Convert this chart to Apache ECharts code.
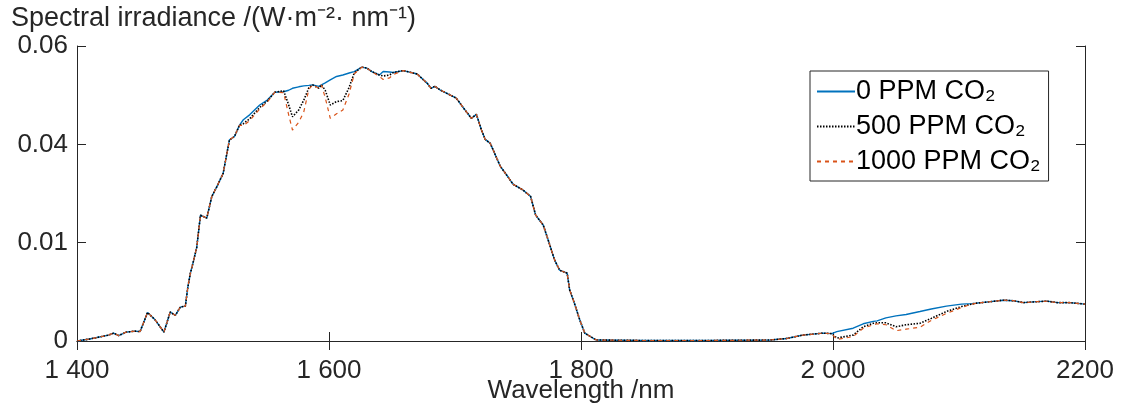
<!DOCTYPE html>
<html>
<head>
<meta charset="utf-8">
<script src="https://cdn.jsdelivr.net/npm/echarts@6/dist/echarts.min.js"></script>
<style>html,body{margin:0;padding:0;background:#fff}#c{width:1130px;height:403px}</style>
</head>
<body>
<div id="c"></div>
<script>
const wavelengths = [1400,1410,1425,1429,1433,1439,1446,1450,1456,1462,1469,1474,1478,1482,1486,1488,1490,1492,1495,1498,1503,1507,1511,1516,1519,1521,1525,1529,1532,1537,1545,1551,1557,1564,1568,1571,1576,1580,1584,1587,1592,1594,1597,1601,1606,1611,1616,1620,1626,1630,1634,1640,1643,1648,1651,1659,1670,1678,1681,1684,1688,1701,1707,1713,1717,1721,1724,1728,1736,1742,1746,1754,1760,1764,1770,1774,1779,1783,1789,1791,1795,1799,1803,1812,1850,1900,1950,1963,1976,1992,1999,2003,2016,2024,2032,2035,2042,2050,2058,2069,2078,2090,2102,2110,2114,2125,2135,2143,2151,2162,2170,2178,2188,2200];
const ppm0 = [0,0.0004,0.0012,0.0016,0.0011,0.0018,0.0020,0.0019,0.0058,0.0043,0.0018,0.0059,0.0052,0.0069,0.0071,0.0110,0.0138,0.0158,0.0190,0.0256,0.0250,0.0294,0.0314,0.0341,0.0382,0.0409,0.0416,0.0439,0.0450,0.0460,0.0480,0.0490,0.0506,0.0507,0.0510,0.0514,0.0517,0.0519,0.0520,0.0521,0.0518,0.0521,0.0525,0.0531,0.0538,0.0541,0.0545,0.0548,0.0557,0.0555,0.0548,0.0541,0.0548,0.0547,0.0546,0.0550,0.0543,0.0524,0.0514,0.0518,0.0511,0.0494,0.0473,0.0453,0.0461,0.0429,0.0410,0.0402,0.0355,0.0334,0.0319,0.0307,0.0294,0.0256,0.0236,0.0205,0.0165,0.0144,0.0138,0.0104,0.0075,0.0043,0.0016,0.0002,0.0001,0.0001,0.0002,0.0005,0.0012,0.0016,0.0015,0.0019,0.0026,0.0035,0.0040,0.0041,0.0047,0.0051,0.0054,0.0060,0.0065,0.0071,0.0075,0.0076,0.0077,0.0080,0.0083,0.0082,0.0078,0.0080,0.0081,0.0078,0.0078,0.0075];
const ppm500 = [0,0.0004,0.0012,0.0016,0.0011,0.0018,0.0020,0.0019,0.0058,0.0043,0.0018,0.0059,0.0052,0.0069,0.0071,0.0110,0.0138,0.0158,0.0190,0.0256,0.0250,0.0294,0.0314,0.0341,0.0382,0.0409,0.0416,0.0439,0.0442,0.0452,0.0475,0.0488,0.0506,0.0509,0.0480,0.0456,0.0470,0.0490,0.0515,0.0521,0.0514,0.0521,0.0510,0.0480,0.0487,0.0489,0.0516,0.0545,0.0557,0.0555,0.0548,0.0541,0.0539,0.0541,0.0546,0.0550,0.0543,0.0524,0.0514,0.0518,0.0511,0.0494,0.0473,0.0453,0.0461,0.0429,0.0410,0.0402,0.0355,0.0334,0.0319,0.0307,0.0294,0.0256,0.0236,0.0205,0.0165,0.0144,0.0138,0.0104,0.0075,0.0043,0.0016,0.0002,0.0001,0.0001,0.0002,0.0005,0.0012,0.0016,0.0015,0.0006,0.0012,0.0029,0.0036,0.0037,0.0037,0.0029,0.0033,0.0036,0.0046,0.0060,0.0070,0.0075,0.0077,0.0080,0.0083,0.0082,0.0078,0.0080,0.0081,0.0078,0.0078,0.0075];
const ppm1000 = [0,0.0004,0.0012,0.0016,0.0011,0.0018,0.0020,0.0019,0.0058,0.0043,0.0018,0.0059,0.0052,0.0069,0.0071,0.0110,0.0138,0.0158,0.0190,0.0256,0.0250,0.0294,0.0314,0.0341,0.0382,0.0409,0.0416,0.0439,0.0438,0.0448,0.0472,0.0486,0.0506,0.0505,0.0460,0.0429,0.0445,0.0466,0.0512,0.0521,0.0514,0.0521,0.0495,0.0453,0.0462,0.0470,0.0503,0.0543,0.0557,0.0555,0.0548,0.0538,0.0532,0.0535,0.0542,0.0550,0.0543,0.0524,0.0514,0.0518,0.0511,0.0494,0.0473,0.0453,0.0461,0.0429,0.0410,0.0402,0.0355,0.0334,0.0319,0.0307,0.0294,0.0256,0.0236,0.0205,0.0165,0.0144,0.0138,0.0104,0.0075,0.0043,0.0016,0.0002,0.0001,0.0001,0.0002,0.0005,0.0012,0.0016,0.0015,0.0003,0.0009,0.0026,0.0033,0.0035,0.0033,0.0021,0.0024,0.0028,0.0042,0.0056,0.0068,0.0075,0.0077,0.0080,0.0083,0.0082,0.0078,0.0080,0.0081,0.0078,0.0078,0.0075];
const seriesNames = ['0 PPM CO₂','500 PPM CO₂','1000 PPM CO₂'];
const xTickValues = [1400,1600,1800,2000,2200];
const xTickLabels = ['1 400','1 600','1 800','2 000','2200'];
const yTickValues = [0,0.02,0.04,0.06];
const yTickLabels = ['0','0.01','0.04','0.06'];

const FONT = 'Liberation Sans, Arial, sans-serif';
const AX = '#262626';
const chart = echarts.init(document.getElementById('c'), null, {renderer:'canvas'});
const toPairs = arr => wavelengths.map((w,i)=>[w, arr[i]]);
const xFmt = v => { const i = xTickValues.indexOf(Math.round(v)); return i>=0 ? xTickLabels[i] : ''; };
const yFmt = v => { const i = yTickValues.findIndex(t=>Math.abs(t-v)<1e-9); return i>=0 ? yTickLabels[i] : ''; };
const axCommon = {
  axisLine:{show:true,lineStyle:{color:AX,width:1}},
  axisTick:{show:true,inside:true,length:9,lineStyle:{color:AX,width:1}},
  splitLine:{show:false}
};
chart.setOption({
  animation:false,
  title:{text:'Spectral irradiance /(W·m⁻²· nm⁻¹)',left:6,top:0,
    textStyle:{fontFamily:FONT,fontSize:27,fontWeight:'normal',color:AX}},
  grid:{left:77,right:45,top:46,bottom:62,containLabel:false,outerBoundsMode:'none'},
  legend:{
    orient:'vertical',left:810,top:71,
    data:seriesNames,
    itemWidth:38,itemHeight:14,itemGap:8,
    itemStyle:{color:'rgba(0,0,0,0)',borderColor:'rgba(0,0,0,0)',borderWidth:0,opacity:0},
    borderColor:AX,borderWidth:1,padding:[7,8,6,6],
    textStyle:{fontFamily:FONT,fontSize:27,color:'#000',padding:[0,0,0,-4]},
    backgroundColor:'#fff'
  },
  xAxis:[
    Object.assign({type:'value',min:1400,max:2200,interval:200,position:'bottom',
      name:'Wavelength /nm',nameLocation:'middle',nameGap:37,nameMoveOverlap:false,
      nameTextStyle:{fontFamily:FONT,fontSize:26,color:AX},
      axisLabel:{fontFamily:FONT,fontSize:26,color:AX,margin:17,formatter:xFmt,showMinLabel:true,showMaxLabel:true}},axCommon),
    Object.assign({type:'value',min:1400,max:2200,interval:200,position:'top',
      axisLabel:{show:false}},axCommon)
  ],
  yAxis:[
    Object.assign({type:'value',min:0,max:0.06,interval:0.02,position:'left',
      axisLabel:{fontFamily:FONT,fontSize:26,color:AX,margin:9,formatter:yFmt}},axCommon),
    Object.assign({type:'value',min:0,max:0.06,interval:0.02,position:'right',
      axisLabel:{show:false}},axCommon)
  ],
  series:[
    {name:seriesNames[0],type:'line',data:toPairs(ppm0),symbol:'none',
      lineStyle:{color:'#0072BD',width:1.4,type:'solid'},itemStyle:{color:'#0072BD'},z:2},
    {name:seriesNames[1],type:'line',data:toPairs(ppm500),symbol:'none',
      lineStyle:{color:'#000000',width:1.6,type:[1.5,1.5]},itemStyle:{color:'#000'},z:3},
    {name:seriesNames[2],type:'line',data:toPairs(ppm1000),symbol:'none',
      lineStyle:{color:'#D95319',width:1.2,type:[4,4]},itemStyle:{color:'#D95319'},z:4}
  ]
});
</script>
</body>
</html>
